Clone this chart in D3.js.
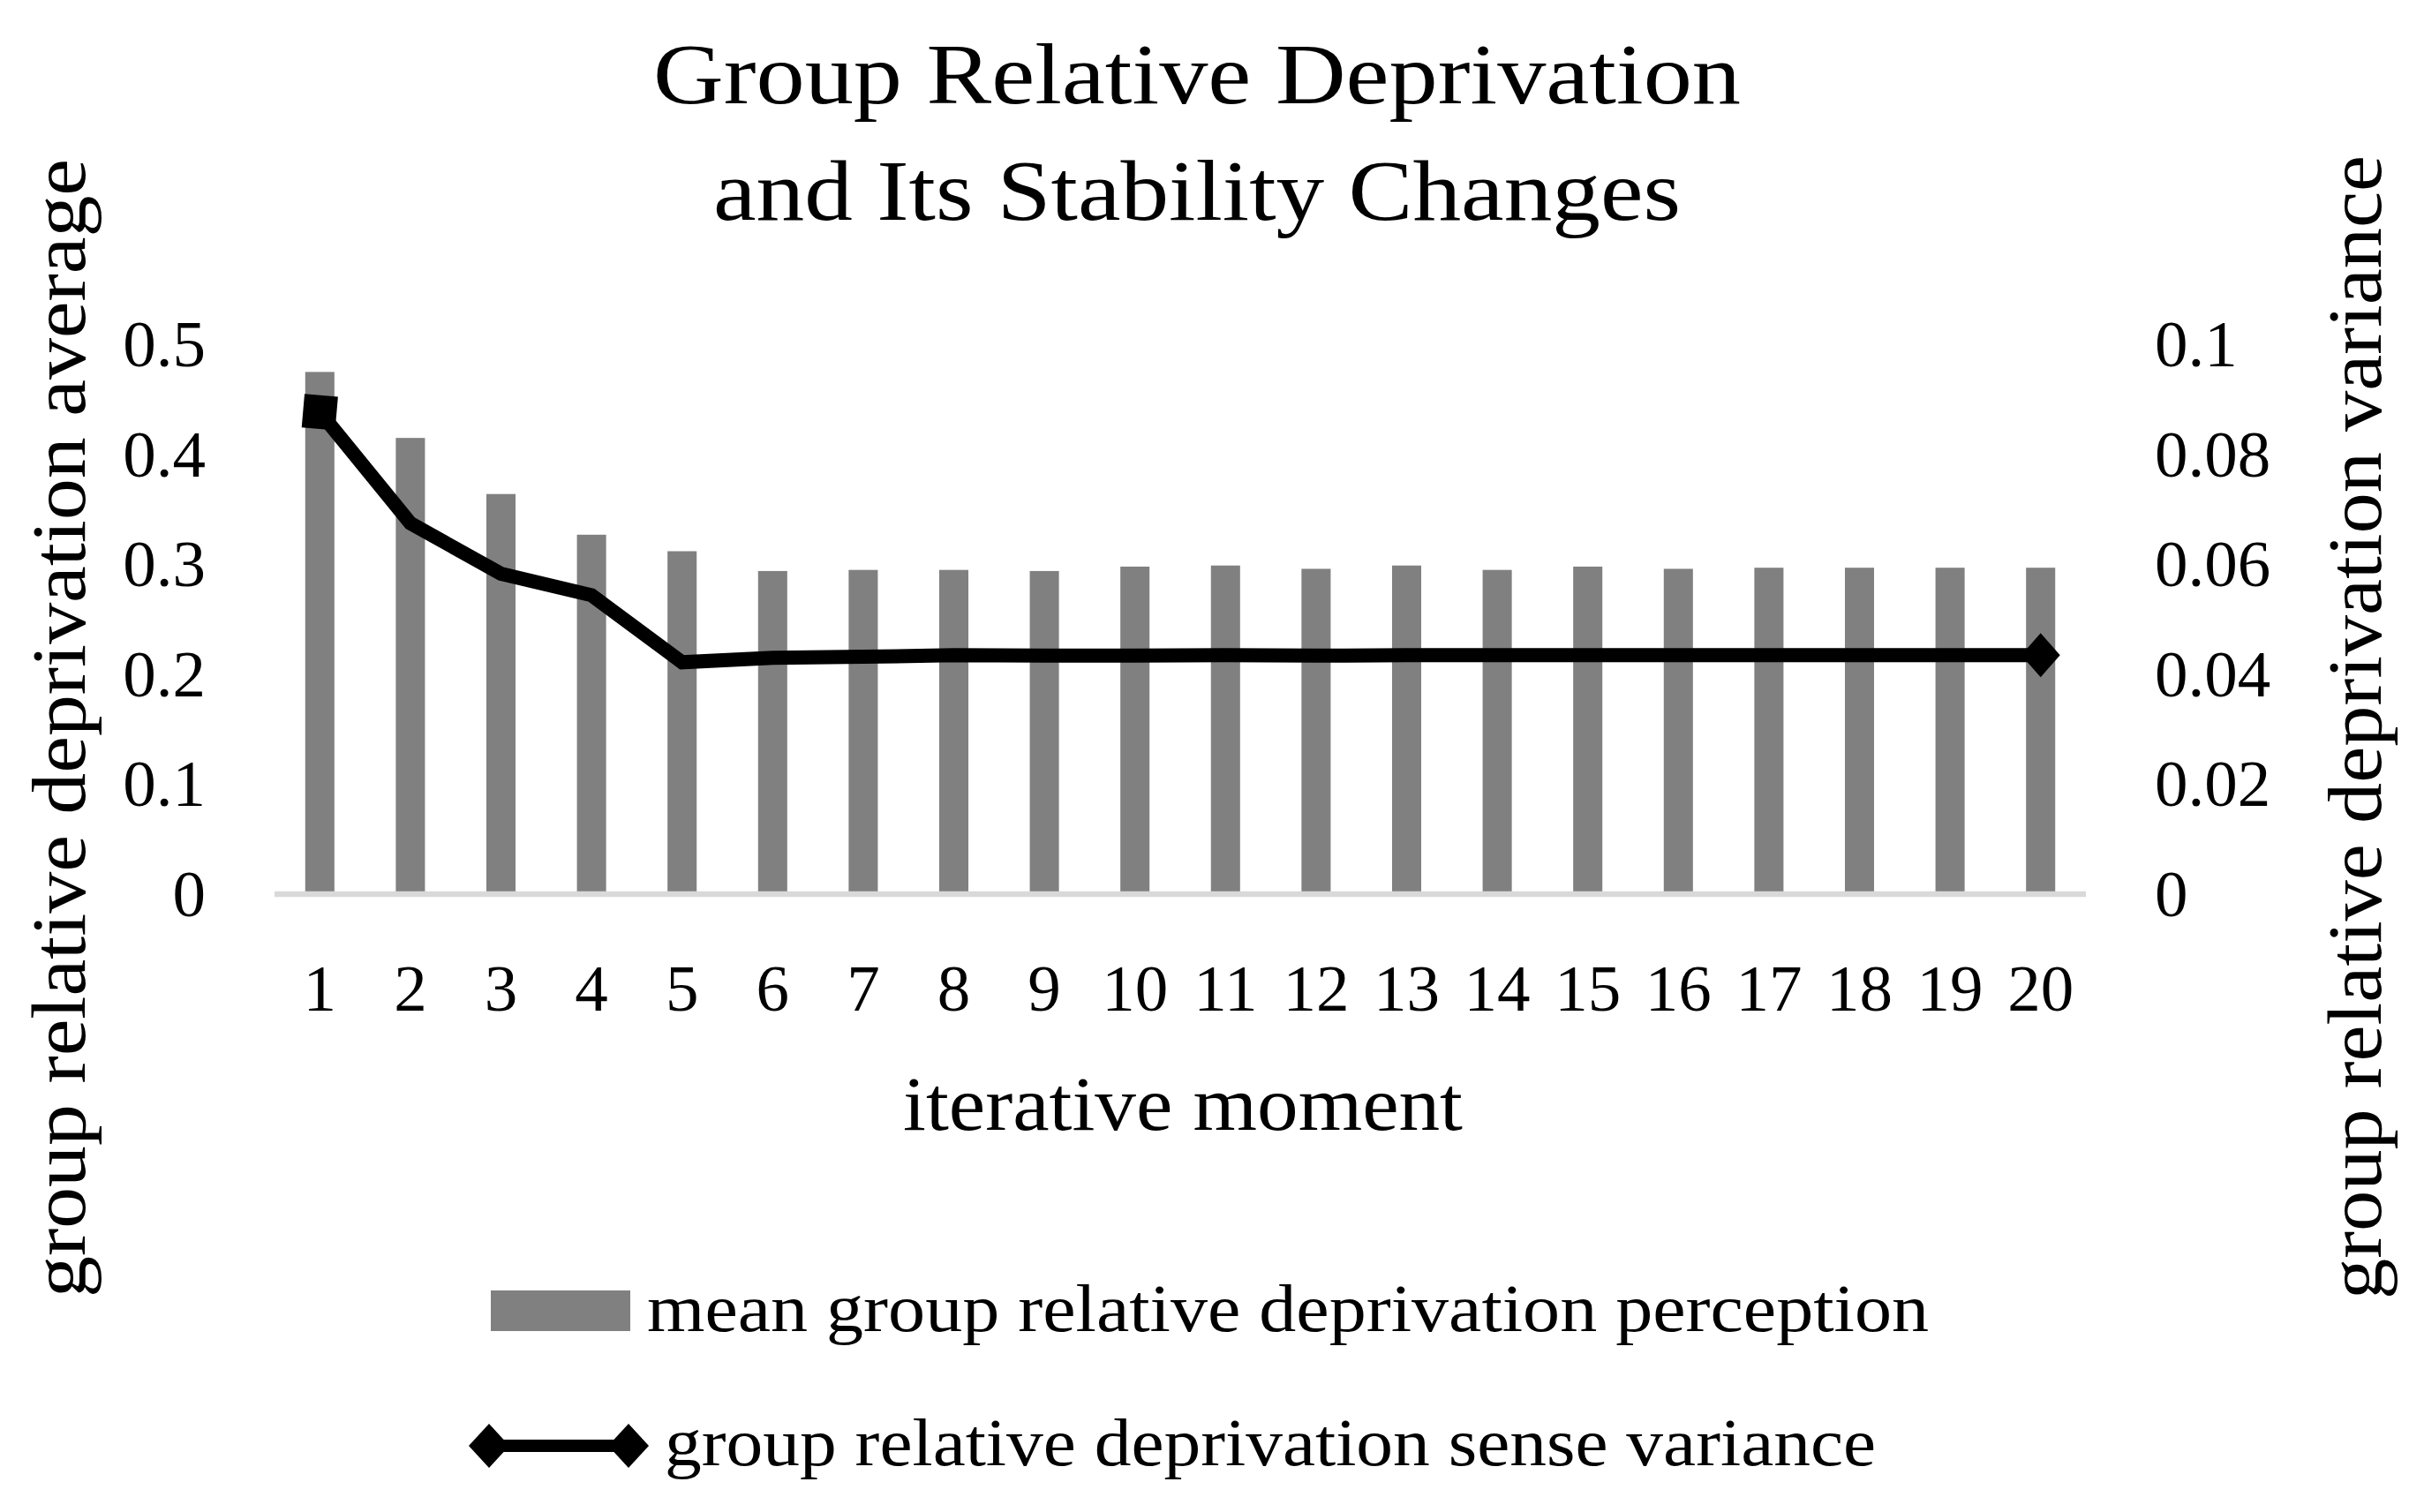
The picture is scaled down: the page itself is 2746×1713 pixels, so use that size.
<!doctype html>
<html lang="en">
<head>
	<meta charset="UTF-8">
	<title>Group Relative Deprivation</title>
	<style type="text/css">
	body{ margin: 0; background: #fff; }
	svg text{
		font-family: 'Palatino Linotype', 'Book Antiqua', Palatino, 'Liberation Serif', serif;
		fill: #000;
	}
	</style>
	<script type="text/javascript" src="https://cdn.jsdelivr.net/npm/d3@7/dist/d3.min.js"></script>
</head>
<body>
	<script type="text/javascript">
		// data
		var categories = ['1','2','3','4','5','6','7','8','9','10','11','12','13','14','15','16','17','18','19','20'];
		var meanPerception = [0.474, 0.414, 0.363, 0.326, 0.311, 0.293, 0.294, 0.294, 0.293, 0.297,
		                      0.298, 0.295, 0.298, 0.294, 0.297, 0.295, 0.296, 0.296, 0.296, 0.296];
		var senseVariance = [0.0875, 0.0673, 0.0581, 0.0542, 0.0420, 0.0428, 0.0430, 0.0433, 0.0432, 0.0432,
		                     0.0433, 0.0432, 0.0433, 0.0433, 0.0433, 0.0433, 0.0433, 0.0433, 0.0433, 0.0433];
		var leftTicks = [0, 0.1, 0.2, 0.3, 0.4, 0.5];
		var rightTicks = [0, 0.02, 0.04, 0.06, 0.08, 0.1];
		var titleLines = ['Group Relative Deprivation', 'and Its Stability Changes'];
		var legendNames = ['mean group relative deprivation perception', 'group relative deprivation sense variance'];

		var w = 2746;
		var h = 1713;
		var svg = d3.select('body')
					.append('svg')
					.attr('width', w)
					.attr('height', h);

		var x = d3.scaleBand()
				  .domain(categories)
				  .range([311, 2363])
				  .paddingInner(0.678)
				  .paddingOuter(0.339);
		var yL = d3.scaleLinear().domain([0, 0.5]).range([1012, 389]);
		var yR = d3.scaleLinear().domain([0, 0.1]).range([1012, 389]);

		// title
		svg.selectAll('text.title')
		   .data(titleLines)
		   .enter()
		   .append('text')
		   .attr('class', 'title')
		   .attr('x', 1356)
		   .attr('y', function(d, i){ return 117 + i*132; })
		   .attr('text-anchor', 'middle')
		   .attr('font-size', '98px')
		   .attr('textLength', function(d, i){ return i === 0 ? 1232 : 1096; })
		   .attr('lengthAdjust', 'spacingAndGlyphs')
		   .text(function(d){ return d; });

		// bars
		svg.selectAll('rect.bar')
		   .data(meanPerception)
		   .enter()
		   .append('rect')
		   .attr('class', 'bar')
		   .attr('x', function(d, i){ return x(categories[i]); })
		   .attr('y', function(d){ return yL(d); })
		   .attr('width', x.bandwidth())
		   .attr('height', function(d){ return yL(0) - yL(d); })
		   .attr('fill', '#808080');

		// category axis line
		svg.append('line')
		   .attr('x1', x.range()[0])
		   .attr('x2', x.range()[1])
		   .attr('y1', yL(0) + 1)
		   .attr('y2', yL(0) + 1)
		   .attr('stroke', '#d9d9d9')
		   .attr('stroke-width', 6.5);

		// variance line
		var cx = function(i){ return x(categories[i]) + x.bandwidth()/2; };
		var line = d3.line()
					 .x(function(d, i){ return cx(i); })
					 .y(function(d){ return yR(d); });
		svg.append('path')
		   .datum(senseVariance)
		   .attr('d', line)
		   .attr('fill', 'none')
		   .attr('stroke', '#000')
		   .attr('stroke-width', 16)
		   .attr('stroke-linejoin', 'miter');

		var last = senseVariance.length - 1;
		svg.append('rect')
		   .attr('x', -19).attr('y', -19)
		   .attr('width', 38).attr('height', 38)
		   .attr('fill', '#000')
		   .attr('transform', 'translate(' + cx(0) + ',' + yR(senseVariance[0]) + ') rotate(5)');
		svg.append('path')
		   .attr('d', 'M0,-25L22,0L0,25L-22,0Z')
		   .attr('fill', '#000')
		   .attr('transform', 'translate(' + cx(last) + ',' + yR(senseVariance[last]) + ')');

		// axes
		var fmt = function(d){ return String(d); };
		var left = svg.append('g')
					  .attr('transform', 'translate(233,0)')
					  .call(d3.axisLeft(yL).tickValues(leftTicks).tickSize(0).tickPadding(0).tickFormat(fmt));
		var right = svg.append('g')
					   .attr('transform', 'translate(2441,0)')
					   .call(d3.axisRight(yR).tickValues(rightTicks).tickSize(0).tickPadding(0).tickFormat(fmt));
		var bottom = svg.append('g')
						.attr('transform', 'translate(0,1145)')
						.call(d3.axisBottom(x).tickSize(0).tickPadding(0));
		[left, right, bottom].forEach(function(g){
			g.select('.domain').remove();
			g.selectAll('text')
			 .attr('font-size', '75px')
			 .attr('font-family', null)
			 .attr('fill', '#000');
		});
		left.selectAll('text').attr('dy', '0.34em');
		right.selectAll('text').attr('dy', '0.34em');
		bottom.selectAll('text').attr('y', 0).attr('dy', 0);
		svg.selectAll('g').attr('font-family', null).attr('font-size', null);

		// axis titles
		svg.append('text')
		   .attr('transform', 'translate(96,825) rotate(-90)')
		   .attr('text-anchor', 'middle')
		   .attr('font-size', '87px')
		   .attr('textLength', 1290)
		   .attr('lengthAdjust', 'spacingAndGlyphs')
		   .text('group relative deprivation average');
		svg.append('text')
		   .attr('transform', 'translate(2697,824) rotate(-90)')
		   .attr('text-anchor', 'middle')
		   .attr('font-size', '87px')
		   .attr('textLength', 1296)
		   .attr('lengthAdjust', 'spacingAndGlyphs')
		   .text('group relative deprivation variance');
		svg.append('text')
		   .attr('x', 1340)
		   .attr('y', 1280)
		   .attr('text-anchor', 'middle')
		   .attr('font-size', '87px')
		   .attr('textLength', 634)
		   .attr('lengthAdjust', 'spacingAndGlyphs')
		   .text('iterative moment');

		// legend
		svg.append('rect')
		   .attr('x', 556).attr('y', 1462)
		   .attr('width', 158).attr('height', 46)
		   .attr('fill', '#808080');
		svg.append('text')
		   .attr('x', 733).attr('y', 1508)
		   .attr('font-size', '76px')
		   .attr('textLength', 1452)
		   .attr('lengthAdjust', 'spacingAndGlyphs')
		   .text(legendNames[0]);
		svg.append('line')
		   .attr('x1', 554).attr('x2', 712)
		   .attr('y1', 1638).attr('y2', 1638)
		   .attr('stroke', '#000')
		   .attr('stroke-width', 14);
		svg.selectAll('path.lgd')
		   .data([554, 712])
		   .enter()
		   .append('path')
		   .attr('class', 'lgd')
		   .attr('d', 'M0,-25L23,0L0,25L-23,0Z')
		   .attr('fill', '#000')
		   .attr('transform', function(d){ return 'translate(' + d + ',1638)'; });
		svg.append('text')
		   .attr('x', 753).attr('y', 1660)
		   .attr('font-size', '76px')
		   .attr('textLength', 1372)
		   .attr('lengthAdjust', 'spacingAndGlyphs')
		   .text(legendNames[1]);
	</script>
</body>
</html>
